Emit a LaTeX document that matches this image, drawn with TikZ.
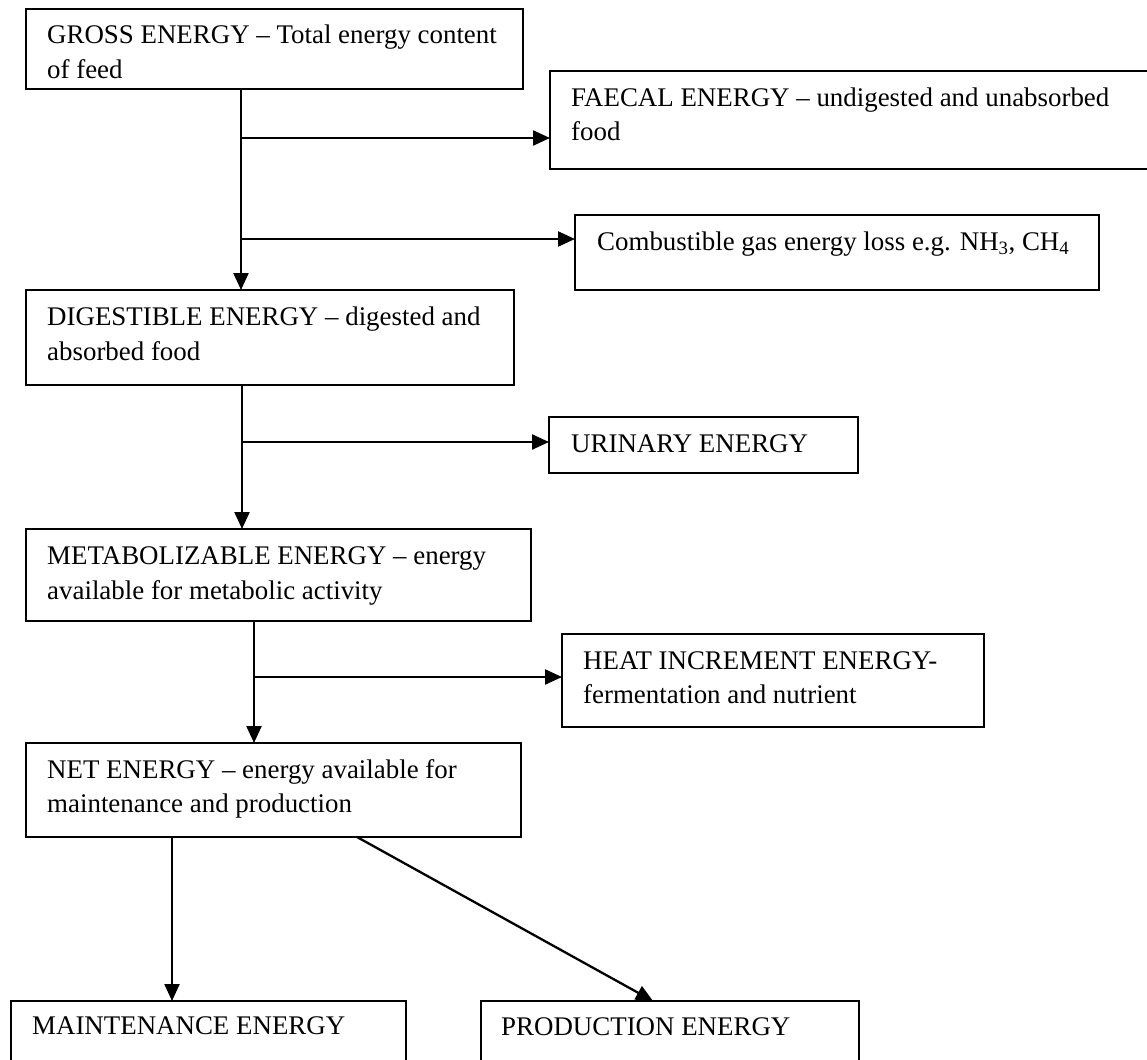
\documentclass[tikz,border=0pt]{standalone}
\usepackage{fontspec}
\setmainfont{Liberation Serif}
\usetikzlibrary{arrows.meta}
\begin{document}
\begin{tikzpicture}[x=1pt,y=-1pt,
  box/.style={draw=black, line width=2.3pt, rectangle, inner sep=0pt, outer sep=0pt, anchor=north west},
  txt/.style={anchor=base west, inner sep=0pt, align=left, font=\fontsize{26.9}{34.5}\selectfont},
  ln/.style={line width=2.3pt, -{Triangle[length=17pt,width=15pt]}}]
\useasboundingbox (0,0) rectangle (1147,1059);
% boxes
\node[box, minimum width=497pt, minimum height=80pt] (gross) at (26,9) {};
\node[box, minimum width=610pt, minimum height=98pt] (faecal) at (550,71) {};
\node[box, minimum width=524pt, minimum height=75pt] (comb) at (575,215) {};
\node[box, minimum width=488pt, minimum height=95pt] (dig) at (26,290) {};
\node[box, minimum width=309pt, minimum height=56pt] (urin) at (549,417) {};
\node[box, minimum width=505pt, minimum height=92pt] (met) at (26,529) {};
\node[box, minimum width=422pt, minimum height=93pt] (heat) at (562,634) {};
\node[box, minimum width=495pt, minimum height=94pt] (net) at (26,743) {};
\node[box, minimum width=395pt, minimum height=80pt] (maint) at (11,1001) {};
\node[box, minimum width=378pt, minimum height=80pt] (prod) at (481,1001) {};
% texts (base anchor = baseline of the last line)
\node[txt] (tgross) at (47,78.5) {GROSS ENERGY \textendash{} Total energy content\\of feed};
\node[txt] (tfaecal) at (571,141) {FAECAL ENERGY \textendash{} undigested and unabsorbed\\food};
\node[txt] (tcomb) at (597,251) {Combustible gas energy loss e.g. NH\textsubscript{3}, CH\textsubscript{4}};
\node[txt] (tdig) at (47,360) {DIGESTIBLE ENERGY \textendash{} digested and\\absorbed food};
\node[txt] (turin) at (571,452) {URINARY ENERGY};
\node[txt] (tmet) at (47,599) {METABOLIZABLE ENERGY \textendash{} energy\\available for metabolic activity};
\node[txt] (theat) at (583,703.5) {HEAT INCREMENT ENERGY-\\fermentation and nutrient};
\node[txt] (tnet) at (47,812.5) {NET ENERGY \textendash{} energy available for\\maintenance and production};
\node[txt] (tmaint) at (32,1034) {MAINTENANCE ENERGY};
\node[txt] (tprod) at (501,1035) {PRODUCTION ENERGY};
% connectors
\coordinate (gs) at ([xshift=215pt]gross.south west);
\draw[ln] (gs) -- (gs |- dig.north);
\draw[ln] (gs |- 0,138) -- (faecal.west |- 0,138);
\draw[ln] (gs |- 0,239) -- (comb.west |- 0,239);
\coordinate (ds) at ([xshift=216pt]dig.south west);
\draw[ln] (ds) -- (ds |- met.north);
\draw[ln] (ds |- 0,442) -- (urin.west |- 0,442);
\coordinate (ms) at ([xshift=228pt]met.south west);
\draw[ln] (ms) -- (ms |- net.north);
\draw[ln] (ms |- 0,677) -- (heat.west |- 0,677);
\coordinate (ns1) at ([xshift=146pt]net.south west);
\draw[ln] (ns1) -- (ns1 |- maint.north);
\coordinate (ns2) at ([xshift=331pt]net.south west);
\coordinate (pt) at ([xshift=172pt]prod.north west);
\draw[ln] (ns2) -- (pt);
\end{tikzpicture}
\end{document}
